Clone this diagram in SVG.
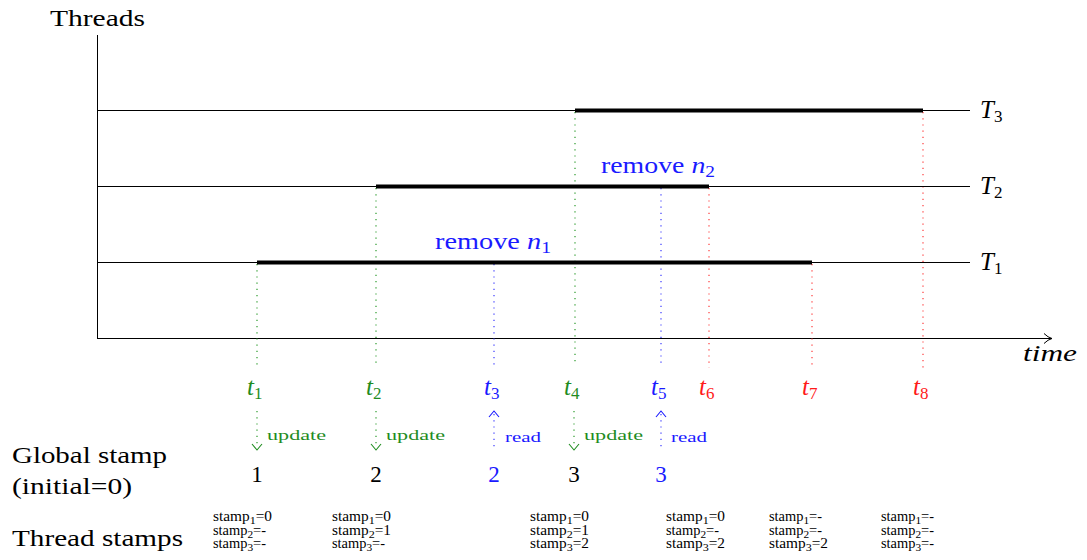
<svg xmlns="http://www.w3.org/2000/svg" width="1087" height="560" viewBox="0 0 1087 560">
<style>
text{font-family:"Liberation Serif","Times New Roman",serif;fill:#000}
.lbl{font-size:23px}
.tl{font-size:25px;font-style:italic}
.it{font-style:italic}
.sm{font-size:14px}
.op{font-size:15px}
.g{fill:#1f8c1f}
.b{fill:#1a1aff}
.r{fill:#ff1a1a}
.thin{stroke:#000;stroke-width:1;fill:none}
.thick{stroke:#000;stroke-width:4;fill:none}
.dg{stroke:#2a9a2a;stroke-width:1.2;stroke-dasharray:1.2 5;fill:none}
.db{stroke:#3a3aff;stroke-width:1.2;stroke-dasharray:1.2 5;fill:none}
.dr{stroke:#ff3a3a;stroke-width:1.2;stroke-dasharray:1.2 5;fill:none}
.ag{stroke:#1f8c1f;stroke-width:1.1;fill:none}
.ab{stroke:#1a1aff;stroke-width:1.1;fill:none}
</style>
<defs>
<marker id="ax" markerWidth="12" markerHeight="12" refX="10" refY="6" orient="auto" markerUnits="userSpaceOnUse">
<path d="M2,1 Q6,5 10,6 Q6,7 2,11" fill="none" stroke="#000" stroke-width="1"/>
</marker>
</defs>

<g id="axes">
<line class="thin" x1="97.5" y1="35" x2="97.5" y2="338"/>
<line class="thin" x1="97" y1="338.5" x2="1052" y2="338.5" marker-end="url(#ax)"/>
<text class="lbl" x="50" y="26" textLength="95" lengthAdjust="spacingAndGlyphs">Threads</text>
<text class="lbl it" x="1023" y="361" textLength="54" lengthAdjust="spacingAndGlyphs">time</text>
</g>

<g id="connectors">
<line class="dg" x1="257" y1="264" x2="257" y2="366"/>
<line class="dg" x1="376" y1="188" x2="376" y2="366"/>
<line class="db" x1="494" y1="264" x2="494" y2="366"/>
<line class="dg" x1="575" y1="112" x2="575" y2="366"/>
<line class="db" x1="661" y1="188" x2="661" y2="366"/>
<line class="dr" x1="709" y1="188" x2="709" y2="368"/>
<line class="dr" x1="812" y1="264" x2="812" y2="368"/>
<line class="dr" x1="923" y1="112" x2="923" y2="368"/>
<line class="dg" x1="257" y1="411" x2="257" y2="447"/>
<path class="ag" d="M252,444 L257,450 L262,444"/>
<line class="dg" x1="376" y1="411" x2="376" y2="447"/>
<path class="ag" d="M371,444 L376,450 L381,444"/>
<line class="dg" x1="574" y1="411" x2="574" y2="447"/>
<path class="ag" d="M569,444 L574,450 L579,444"/>
<line class="db" x1="494" y1="414" x2="494" y2="448"/>
<path class="ab" d="M489,417 L494,411 L499,417"/>
<line class="db" x1="661" y1="414" x2="661" y2="448"/>
<path class="ab" d="M656,417 L661,411 L666,417"/>
</g>

<g id="thread-T3">
<line class="thin" x1="97" y1="110.5" x2="970" y2="110.5"/>
<line class="thick" x1="575" y1="110.5" x2="923" y2="110.5"/>
<text class="tl" x="980" y="118">T<tspan font-size="17" dy="4" font-style="normal">3</tspan></text>
</g>
<g id="thread-T2">
<line class="thin" x1="97" y1="186.5" x2="970" y2="186.5"/>
<line class="thick" x1="376" y1="186.5" x2="709" y2="186.5"/>
<text class="tl" x="980" y="194">T<tspan font-size="17" dy="4" font-style="normal">2</tspan></text>
<text class="lbl b" x="601" y="173" textLength="114" lengthAdjust="spacingAndGlyphs">remove <tspan font-style="italic">n</tspan><tspan font-size="16" dy="4">2</tspan></text>
</g>
<g id="thread-T1">
<line class="thin" x1="97" y1="262.5" x2="970" y2="262.5"/>
<line class="thick" x1="257" y1="262.5" x2="812" y2="262.5"/>
<text class="tl" x="980" y="270">T<tspan font-size="17" dy="4" font-style="normal">1</tspan></text>
<text class="lbl b" x="435" y="249" textLength="116" lengthAdjust="spacingAndGlyphs">remove <tspan font-style="italic">n</tspan><tspan font-size="16" dy="4">1</tspan></text>
</g>

<g id="time-labels">
<text class="tl g" x="247" y="395">t<tspan font-size="17" dy="4" font-style="normal">1</tspan></text>
<text class="tl g" x="366" y="395">t<tspan font-size="17" dy="4" font-style="normal">2</tspan></text>
<text class="tl b" x="484" y="395">t<tspan font-size="17" dy="4" font-style="normal">3</tspan></text>
<text class="tl g" x="564" y="395">t<tspan font-size="17" dy="4" font-style="normal">4</tspan></text>
<text class="tl b" x="651" y="395">t<tspan font-size="17" dy="4" font-style="normal">5</tspan></text>
<text class="tl r" x="699" y="395">t<tspan font-size="17" dy="4" font-style="normal">6</tspan></text>
<text class="tl r" x="802" y="395">t<tspan font-size="17" dy="4" font-style="normal">7</tspan></text>
<text class="tl r" x="913" y="395">t<tspan font-size="17" dy="4" font-style="normal">8</tspan></text>
</g>

<g id="ops">
<text class="op g" x="267" y="440" textLength="59" lengthAdjust="spacingAndGlyphs">update</text>
<text class="op g" x="386" y="440" textLength="59" lengthAdjust="spacingAndGlyphs">update</text>
<text class="op g" x="584" y="440" textLength="59" lengthAdjust="spacingAndGlyphs">update</text>
<text class="op b" x="505" y="442" textLength="36" lengthAdjust="spacingAndGlyphs">read</text>
<text class="op b" x="671" y="442" textLength="36" lengthAdjust="spacingAndGlyphs">read</text>
</g>

<g id="global-stamp">
<text class="lbl" x="12" y="463" textLength="155" lengthAdjust="spacingAndGlyphs">Global stamp</text>
<text class="lbl" x="12" y="494" textLength="120" lengthAdjust="spacingAndGlyphs">(initial=0)</text>
<text class="lbl" x="257" y="482" text-anchor="middle">1</text>
<text class="lbl" x="376" y="482" text-anchor="middle">2</text>
<text class="lbl b" x="494" y="482" text-anchor="middle">2</text>
<text class="lbl" x="574" y="482" text-anchor="middle">3</text>
<text class="lbl b" x="661" y="482" text-anchor="middle">3</text>
</g>

<g id="thread-stamps">
<text class="lbl" x="12" y="546" textLength="171" lengthAdjust="spacingAndGlyphs">Thread stamps</text>
<text class="sm" x="213" y="521" textLength="59" lengthAdjust="spacingAndGlyphs">stamp<tspan font-size="11" dy="3">1</tspan><tspan dy="-3">=0</tspan></text>
<text class="sm" x="213" y="534.5" textLength="53" lengthAdjust="spacingAndGlyphs">stamp<tspan font-size="11" dy="3">2</tspan><tspan dy="-3">=-</tspan></text>
<text class="sm" x="213" y="548" textLength="53" lengthAdjust="spacingAndGlyphs">stamp<tspan font-size="11" dy="3">3</tspan><tspan dy="-3">=-</tspan></text>

<text class="sm" x="332" y="521" textLength="59" lengthAdjust="spacingAndGlyphs">stamp<tspan font-size="11" dy="3">1</tspan><tspan dy="-3">=0</tspan></text>
<text class="sm" x="332" y="534.5" textLength="59" lengthAdjust="spacingAndGlyphs">stamp<tspan font-size="11" dy="3">2</tspan><tspan dy="-3">=1</tspan></text>
<text class="sm" x="332" y="548" textLength="53" lengthAdjust="spacingAndGlyphs">stamp<tspan font-size="11" dy="3">3</tspan><tspan dy="-3">=-</tspan></text>

<text class="sm" x="530" y="521" textLength="59" lengthAdjust="spacingAndGlyphs">stamp<tspan font-size="11" dy="3">1</tspan><tspan dy="-3">=0</tspan></text>
<text class="sm" x="530" y="534.5" textLength="59" lengthAdjust="spacingAndGlyphs">stamp<tspan font-size="11" dy="3">2</tspan><tspan dy="-3">=1</tspan></text>
<text class="sm" x="530" y="548" textLength="59" lengthAdjust="spacingAndGlyphs">stamp<tspan font-size="11" dy="3">3</tspan><tspan dy="-3">=2</tspan></text>

<text class="sm" x="666" y="521" textLength="59" lengthAdjust="spacingAndGlyphs">stamp<tspan font-size="11" dy="3">1</tspan><tspan dy="-3">=0</tspan></text>
<text class="sm" x="666" y="534.5" textLength="53" lengthAdjust="spacingAndGlyphs">stamp<tspan font-size="11" dy="3">2</tspan><tspan dy="-3">=-</tspan></text>
<text class="sm" x="666" y="548" textLength="59" lengthAdjust="spacingAndGlyphs">stamp<tspan font-size="11" dy="3">3</tspan><tspan dy="-3">=2</tspan></text>

<text class="sm" x="769" y="521" textLength="53" lengthAdjust="spacingAndGlyphs">stamp<tspan font-size="11" dy="3">1</tspan><tspan dy="-3">=-</tspan></text>
<text class="sm" x="769" y="534.5" textLength="53" lengthAdjust="spacingAndGlyphs">stamp<tspan font-size="11" dy="3">2</tspan><tspan dy="-3">=-</tspan></text>
<text class="sm" x="769" y="548" textLength="59" lengthAdjust="spacingAndGlyphs">stamp<tspan font-size="11" dy="3">3</tspan><tspan dy="-3">=2</tspan></text>

<text class="sm" x="881" y="521" textLength="53" lengthAdjust="spacingAndGlyphs">stamp<tspan font-size="11" dy="3">1</tspan><tspan dy="-3">=-</tspan></text>
<text class="sm" x="881" y="534.5" textLength="53" lengthAdjust="spacingAndGlyphs">stamp<tspan font-size="11" dy="3">2</tspan><tspan dy="-3">=-</tspan></text>
<text class="sm" x="881" y="548" textLength="53" lengthAdjust="spacingAndGlyphs">stamp<tspan font-size="11" dy="3">3</tspan><tspan dy="-3">=-</tspan></text>
</g>
</svg>
